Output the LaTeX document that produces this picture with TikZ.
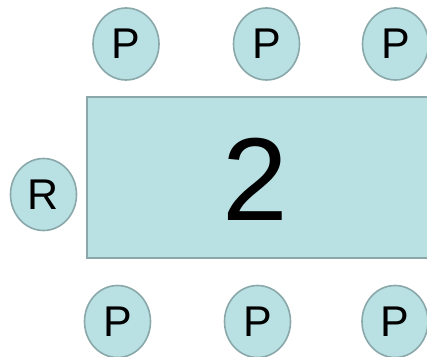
\documentclass[tikz,border=0pt]{standalone}
\usepackage{fontspec}
\setmainfont{Liberation Sans}
\usetikzlibrary{shapes.geometric}
\definecolor{seatfill}{RGB}{185,224,227}
\definecolor{seatline}{RGB}{138,168,170}
\begin{document}
\begin{tikzpicture}[
    x=1pt, y=1pt,
    seat/.style={ellipse, draw=seatline, fill=seatfill, line width=1.6pt,
        minimum width=66pt, minimum height=72pt, inner sep=0pt,
        font=\fontsize{43}{43}\selectfont},
    table/.style={rectangle, draw=seatline, fill=seatfill, line width=1.6pt,
        minimum width=373pt, minimum height=161pt, inner sep=0pt},
    number/.style={inner sep=0pt, font=\fontsize{118}{118}\selectfont}
]
\useasboundingbox (0,0) rectangle (427,356);

% Table
\node[table] (tbl) at (273.5,178.5) {};
\node[number] (num) at (255.5,177) {2};

% Top row
\node[seat] (p1) at (126,312) {P};
\node[seat] (p2) at (266.5,312) {P};
\node[seat] (p3) at (395.5,312) {P};

% Head of table
\node[seat] (r) at (43.5,161.5) {R};

% Bottom row
\node[seat] (p4) at (117.5,34.5) {P};
\node[seat] (p5) at (257.5,34.5) {P};
\node[seat] (p6) at (395,34.5) {P};

\end{tikzpicture}
\end{document}
